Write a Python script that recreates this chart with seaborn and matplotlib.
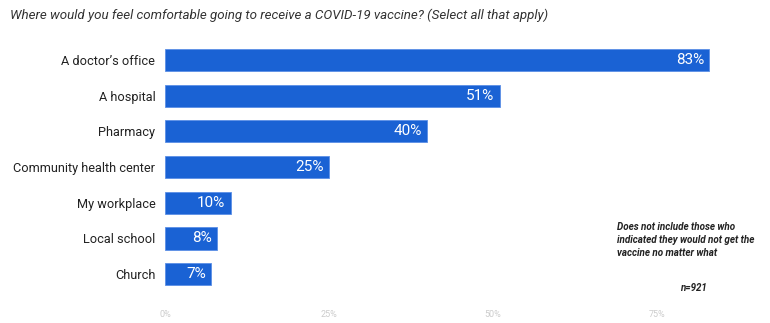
import matplotlib
matplotlib.use("Agg")
import matplotlib.pyplot as plt
import seaborn as sns
import pandas as pd

categories = ["A doctor\u2019s office", "A hospital", "Pharmacy", "Community health center",
              "My workplace", "Local school", "Church"]
shares = [83, 51, 40, 25, 10, 8, 7]
value_labels = ["83%", "51%", "40%", "25%", "10%", "8%", "7%"]
tick_values = [0, 25, 50, 75]
tick_labels = ["0%", "25%", "50%", "75%"]

title = "Where would you feel comfortable going to receive a COVID-19 vaccine? (Select all that apply)"
note = "Does not include those who\nindicated they would not get the\nvaccine no matter what"
sample = "n=921"

sns.set_theme(style="white")
plt.rcParams["font.family"] = ["Roboto", "DejaVu Sans"]

df = pd.DataFrame({"place": categories, "share": shares})

fig = plt.figure(figsize=(7.7, 3.23), dpi=100)
ax = fig.add_axes([165 / 770, 1 - 292 / 323, 1 - 165 / 770, 250 / 323])

sns.barplot(data=df, x="share", y="place", color="#1a62d4", saturation=1,
            width=0.62, edgecolor="#5b8fe6", linewidth=0.6, ax=ax)

for i, (v, lab) in enumerate(zip(shares, value_labels)):
    ax.text(v - 0.8, i, lab, ha="right", va="center", color="white", fontsize=11)

ax.set_xlim(0, 605 / 6.56)
ax.set_ylim(6.5, -0.5)
ax.set_xticks(tick_values)
ax.set_xticklabels(tick_labels, color="#cccccc", fontsize=6.5)
ax.tick_params(axis="x", length=0, pad=13)
ax.tick_params(axis="y", length=0, pad=7, labelsize=9.2, labelcolor="#222222")
ax.set_xlabel("")
ax.set_ylabel("")
for s in ax.spines.values():
    s.set_visible(False)

fig.text(10 / 770, 1 - 15 / 323, title, ha="left", va="center", fontsize=9.6,
         style="italic", color="#333333")
fig.text(617 / 770, 1 - 240 / 323, note, ha="left", va="center", fontsize=7.1,
         style="italic", weight="bold", color="#222222", linespacing=1.4)
fig.text(707 / 770, 1 - 288 / 323, sample, ha="right", va="center", fontsize=7,
         style="italic", weight="bold", color="#222222")

fig.savefig("out.png", dpi=100, facecolor="white")
